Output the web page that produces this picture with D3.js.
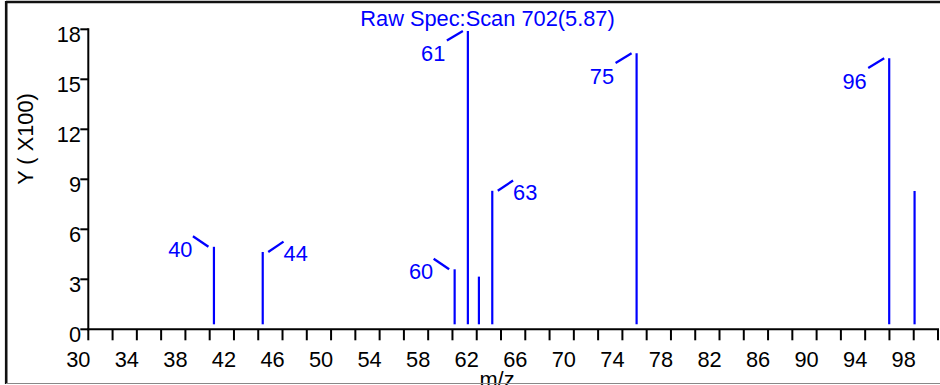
<!DOCTYPE html>
<html>
<head>
<meta charset="utf-8">
<script src="https://cdn.jsdelivr.net/npm/d3@7"></script>
<style>
  html, body { margin: 0; padding: 0; background: #fff; }
  svg { display: block; font-family: "Liberation Sans", Arial, sans-serif; }
</style>
</head>
<body>
<svg id="chart" width="940" height="385"></svg>
<script>
// ---- data ----
const chartTitle = "Raw Spec:Scan 702(5.87)";
const peakMz = [40.35, 44.37, 60.18, 61.27, 62.18, 63.28, 75.17, 95.98, 98.07];
const peakIntensity = [4.95, 4.64, 3.6, 17.9, 3.16, 8.31, 16.56, 16.26, 8.3]; // x100
const peakLabels = ["40", "44", "60", "61", "", "63", "75", "96", ""];
const xTicks = d3.range(30, 101, 2);
const xTickLabels = d3.range(30, 99, 4);
const yTickLabels = [0, 3, 6, 9, 12, 15, 18];

// ---- label placement styles (presentation only) ----
const placement = { "40": "leftDown", "60": "leftDown", "61": "leftUp", "75": "leftUp", "96": "leftUp", "44": "right", "63": "right" };

const svg = d3.select("#chart");
const blue = "#0000ff";
const fs = 21.8;

const x = d3.scaleLinear().domain([30, 100]).range([88.3, 938]);
const y = d3.scaleLinear().domain([0, 18]).range([329.3, 29.3]);

// frame
svg.append("line").attr("x1", 6).attr("x2", 940).attr("y1", 2).attr("y2", 2)
  .attr("stroke", "#111").attr("stroke-width", 2.6);
svg.append("line").attr("x1", 6.2).attr("x2", 6.2).attr("y1", 1).attr("y2", 384)
  .attr("stroke", "#111").attr("stroke-width", 2.6);

// x axis
const xAxis = svg.append("g");
xAxis.append("line").attr("x1", x(30) - 1).attr("x2", x(100) + 1).attr("y1", y(0)).attr("y2", y(0))
  .attr("stroke", "#000").attr("stroke-width", 2);
xAxis.selectAll("line.tk").data(xTicks).enter().append("line").attr("class", "tk")
  .attr("x1", d => x(d)).attr("x2", d => x(d)).attr("y1", y(0)).attr("y2", y(0) + 11)
  .attr("stroke", "#000").attr("stroke-width", 2);
xAxis.selectAll("text").data(xTickLabels).enter().append("text")
  .attr("x", d => x(d) - 10).attr("y", 366.5).attr("text-anchor", "middle")
  .attr("font-size", fs).attr("fill", "#000").text(d => d);

// y axis
const yAxis = svg.append("g");
yAxis.append("line").attr("x1", x(30)).attr("x2", x(30)).attr("y1", y(18) - 1).attr("y2", y(0) + 1)
  .attr("stroke", "#000").attr("stroke-width", 2);
yAxis.selectAll("line.tk").data(yTickLabels).enter().append("line").attr("class", "tk")
  .attr("x1", x(30) - 8).attr("x2", x(30)).attr("y1", d => y(d)).attr("y2", d => y(d))
  .attr("stroke", "#000").attr("stroke-width", 2);
yAxis.selectAll("text").data(yTickLabels).enter().append("text")
  .attr("x", 81).attr("y", d => y(d) + 12.5).attr("text-anchor", "end")
  .attr("font-size", fs).attr("fill", "#000").text(d => d);

// axis titles
svg.append("text").attr("transform", "translate(32.5,139) rotate(-90)")
  .attr("text-anchor", "middle").attr("font-size", fs).attr("fill", "#000").text("Y ( X100)");
svg.append("text").attr("x", 497).attr("y", 386.5).attr("text-anchor", "middle")
  .attr("font-size", fs).attr("fill", "#000").text("m/z");

// title
svg.append("text").attr("x", 487.5).attr("y", 26).attr("text-anchor", "middle")
  .attr("font-size", fs).attr("fill", blue).text(chartTitle);

// peaks
const peaks = peakMz.map((m, i) => ({ mz: m, v: peakIntensity[i], label: peakLabels[i] }));
svg.selectAll("line.peak").data(peaks).enter().append("line").attr("class", "peak")
  .attr("x1", d => x(d.mz)).attr("x2", d => x(d.mz))
  .attr("y1", d => y(d.v)).attr("y2", y(0) - 5)
  .attr("stroke", blue).attr("stroke-width", 2.2);

// peak labels
const lab = svg.selectAll("g.lab").data(peaks.filter(d => d.label)).enter().append("g").attr("class", "lab");
lab.each(function (d) {
  const g = d3.select(this);
  const px = x(d.mz), top = y(d.v);
  const p = placement[d.label];
  let l, t;
  if (p === "leftDown") {
    l = [px - 21, top - 10.5, px - 5.5, top];
    t = { x: px - 21.5, y: top + 10, anchor: "end" };
  } else if (p === "leftUp") {
    l = [px - 21, top + 9.6, px - 5, top];
    t = { x: px - 22.5, y: top + 30.5, anchor: "end" };
  } else {
    l = [px + 5.5, top, px + 20.8, top - 10.3];
    t = { x: px + 20.8, y: top + 9.3, anchor: "start" };
  }
  g.append("line").attr("x1", l[0]).attr("y1", l[1]).attr("x2", l[2]).attr("y2", l[3])
    .attr("stroke", blue).attr("stroke-width", 2.3);
  g.append("text").attr("x", t.x).attr("y", t.y).attr("text-anchor", t.anchor)
    .attr("font-size", fs).attr("fill", blue).text(d.label);
});

// bottom frame line (drawn over)
svg.append("line").attr("x1", 6).attr("x2", 940).attr("y1", 383.5).attr("y2", 383.5)
  .attr("stroke", "#888").attr("stroke-width", 1.2);
</script>
</body>
</html>
